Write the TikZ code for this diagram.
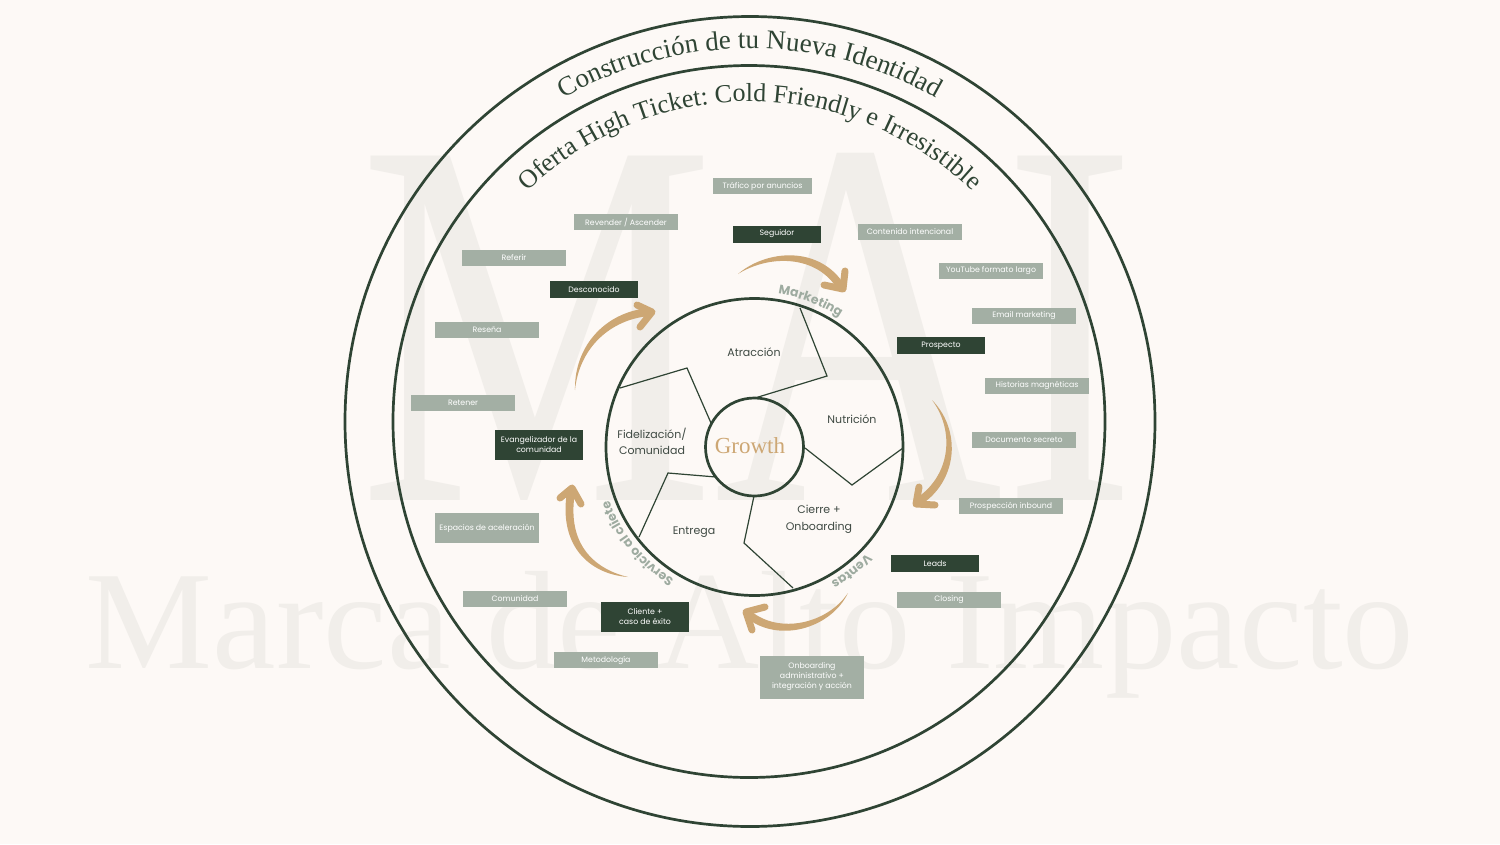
\documentclass[tikz,border=0pt]{standalone}
\usepackage{fontspec}
\setmainfont{Poppins}
\newfontfamily\serif{Liberation Serif}
\usetikzlibrary{decorations.text}
\definecolor{bg}{HTML}{FDF9F6}
\definecolor{dg}{HTML}{2F4434}
\definecolor{bx}{HTML}{A3AFA4}
\definecolor{wm}{HTML}{F1EEEA}
\definecolor{tanc}{HTML}{CDA774}
\definecolor{lblc}{HTML}{3F4A43}
\definecolor{mk}{HTML}{9EABA0}
\newcommand\taper[9]{%
 \fill[tanc] plot[domain=0:1,samples=41,variable=\tval]
 ({bz(\tval,#1,#3,#5,#7)-(#9)*wf(\tval)*dbz(\tval,#2,#4,#6,#8)/veclen(dbz(\tval,#1,#3,#5,#7),dbz(\tval,#2,#4,#6,#8))},
  {bz(\tval,#2,#4,#6,#8)+(#9)*wf(\tval)*dbz(\tval,#1,#3,#5,#7)/veclen(dbz(\tval,#1,#3,#5,#7),dbz(\tval,#2,#4,#6,#8))})
 -- plot[domain=1:0,samples=41,variable=\tval]
 ({bz(\tval,#1,#3,#5,#7)+(#9)*wf(\tval)*dbz(\tval,#2,#4,#6,#8)/veclen(dbz(\tval,#1,#3,#5,#7),dbz(\tval,#2,#4,#6,#8))},
  {bz(\tval,#2,#4,#6,#8)-(#9)*wf(\tval)*dbz(\tval,#1,#3,#5,#7)/veclen(dbz(\tval,#1,#3,#5,#7),dbz(\tval,#2,#4,#6,#8))})
 -- cycle;}
\begin{document}
\begin{tikzpicture}[x=1pt,y=-1pt,
  declare function={
    bz(\tv,\pa,\pb,\pc,\pd)=(1-\tv)*(1-\tv)*(1-\tv)*\pa+3*(1-\tv)*(1-\tv)*\tv*\pb+3*(1-\tv)*\tv*\tv*\pc+\tv*\tv*\tv*\pd;
    dbz(\tv,\pa,\pb,\pc,\pd)=3*(1-\tv)*(1-\tv)*(\pb-\pa)+6*(1-\tv)*\tv*(\pc-\pb)+3*\tv*\tv*(\pd-\pc);
    wf(\tv)=0.5*\tv*(2-\tv);},
  ring/.style={draw=dg, line width=2.7},
  divider/.style={draw=dg, line width=1.2},
  lbox/.style={fill=bx, text=white, font=\fontsize{7.8}{10}\selectfont, minimum width=104, minimum height=16, inner sep=0, align=center},
  dbox/.style={lbox, fill=dg, minimum width=88, minimum height=17},
  stage/.style={text=lblc, font=\fontsize{11}{16.5}\selectfont, align=center, inner sep=0},
  head/.style={draw=tanc, line width=7, line cap=round, line join=round}]
\fill[bg] (0,0) rectangle (1500,844);
\useasboundingbox (0,0) rectangle (1500,844);
% watermark
\node[anchor=base, text=wm, inner sep=0] (wmai) at (748,500) {\scalebox{0.76}[1]{\serif\fontsize{526}{526}\selectfont MAI}};
\node[anchor=base, text=wm, inner sep=0] (wmarca) at (750,668) {\scalebox{1.02}[1]{\serif\fontsize{140}{140}\selectfont Marca de Alto Impacto}};
% circles
\draw[ring] (750,421.5) circle[radius=405];
\draw[ring] (749,421.5) circle[radius=356];
\draw[ring] (754.5,447) circle[radius=148.5];
\draw[ring] (754.5,447) circle[radius=49];
% dividers
\draw[divider] (800,308) -- (827,376) -- (755,398);
\draw[divider] (620,388) -- (687,368) -- (711,423);
\draw[divider] (805,448) -- (852,485) -- (903,448);
\draw[divider] (754,496) -- (744,543) -- (793,588);
\draw[divider] (716,477) -- (668,473) -- (639,537);
% stage labels
\node[stage] (atr) at (754,352) {Atracción};
\node[stage] (nut) at (852,419) {Nutrición};
\node[stage] (cie) at (819,519.5) {Cierre +\\Onboarding};
\node[stage] (ent) at (694,532) {Entrega};
\node[stage] (fid) at (652,441.5) {Fidelización/\\Comunidad};
\node[text=tanc, inner sep=0] (growth) at (750,446) {\serif\fontsize{23}{23}\selectfont Growth};
% arc texts
\begin{scope}[y=1pt]
\path[decorate, decoration={text along path, text align=center, text={|\serif\fontsize{27}{27}\selectfont\color{dg}|Construcción de tu Nueva Identidad}}] (750,-421.5) ++(150:373) arc[start angle=150, end angle=30, radius=373];
\path[decorate, decoration={text along path, text align=center, text={|\serif\fontsize{26}{26}\selectfont\color{dg}|Oferta High Ticket: Cold Friendly e Irresistible}}] (750,-421.5) ++(160:320) arc[start angle=160, end angle=20, radius=320];
\path[decorate, decoration={text along path, text align=center, text={|\bfseries\fontsize{12.5}{12.5}\selectfont\color{mk}|Marketing}}] (754.5,-447) ++(99:155) arc[start angle=99, end angle=39, radius=155];
\path[decorate, decoration={text along path, text align=center, text={|\bfseries\fontsize{12.5}{12.5}\selectfont\color{mk}|Ventas}}] (754.5,-447) ++(-22:155) arc[start angle=-22, end angle=-82, radius=155];
\path[decorate, decoration={text along path, text align=center, text={|\bfseries\fontsize{12.5}{12.5}\selectfont\color{mk}|Servicio al cliete}}] (754.5,-447) ++(-100:155) arc[start angle=-100, end angle=-181, radius=155];
\end{scope}
% arrows
\taper{738}{274}{768}{252}{818}{250}{841}{287}{8}
\draw[head] (845,271) -- (843,289) -- (824,285);
\taper{932}{400}{958}{430}{955}{478}{918}{502}{8}
\draw[head] (919,487) -- (916,504) -- (935,505);
\taper{848}{593}{830}{625}{780}{640}{748}{614}{8}
\draw[head] (765,607) -- (746,612) -- (752,630);
\taper{628}{577}{595}{572}{562}{548}{571}{492}{8}
\draw[head] (560,498) -- (572,488) -- (581,504);
\taper{575}{390}{577}{345}{610}{315}{650}{312}{8}
\draw[head] (637,305) -- (652,312) -- (640,327);
% boxes
\node[lbox, minimum width=99] (trafico) at (762.5,186) {Tráfico por anuncios};
\node[lbox] (revender) at (626,222) {Revender / Ascender};
\node[dbox] (seguidor) at (777,234) {Seguidor};
\node[lbox] (contenido) at (910,232) {Contenido intencional};
\node[lbox] (referir) at (514,258) {Referir};
\node[lbox] (youtube) at (991,271) {YouTube formato largo};
\node[dbox] (desconocido) at (594,289.5) {Desconocido};
\node[lbox] (email) at (1024,316) {Email marketing};
\node[lbox] (resena) at (487,330) {Reseña};
\node[dbox] (prospecto) at (941,345.5) {Prospecto};
\node[lbox] (historias) at (1037,385.5) {Historias magnéticas};
\node[lbox] (retener) at (463,402.5) {Retener};
\node[dbox, minimum height=30] (evang) at (539,445) {Evangelizador de la\\comunidad};
\node[lbox] (documento) at (1024,440) {Documento secreto};
\node[lbox] (inbound) at (1011,506) {Prospección inbound};
\node[lbox, minimum height=30] (espacios) at (487,528) {Espacios de aceleración};
\node[dbox] (leads) at (935,563.5) {Leads};
\node[lbox] (comunidad) at (515,599) {Comunidad};
\node[lbox] (closing) at (949,599.5) {Closing};
\node[dbox, minimum height=30] (cliente) at (645,617) {Cliente +\\caso de éxito};
\node[lbox] (metodologia) at (606,660) {Metodología};
\node[lbox, minimum height=43] (onboarding) at (812,677) {Onboarding\\administrativo +\\integración y acción};
\end{tikzpicture}
\end{document}
